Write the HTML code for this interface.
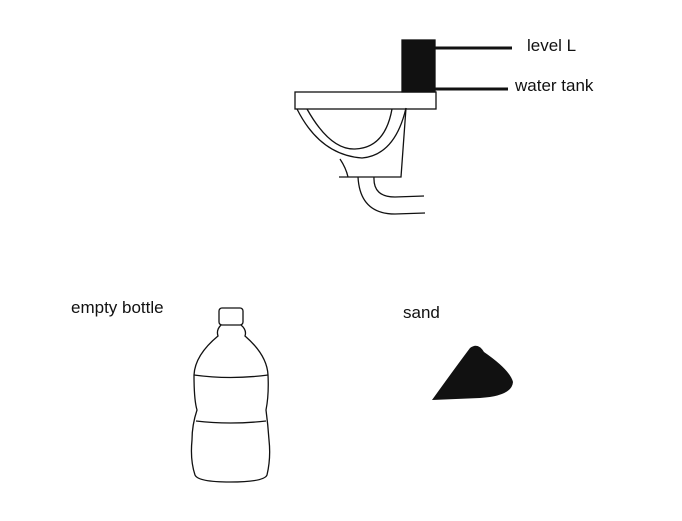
<!DOCTYPE html>
<html><head><meta charset="utf-8"><style>
body{margin:0;background:#fff;width:682px;height:516px;overflow:hidden}
svg text{font-family:"Liberation Sans",sans-serif;font-size:17px;fill:#111}
</style></head><body>
<svg width="682" height="516">
<g fill="none" stroke="#111" stroke-width="1.3">
<rect x="402" y="40" width="33" height="52" fill="#111"/>
<line x1="435" y1="48" x2="512" y2="48" stroke-width="3"/>
<line x1="435" y1="89" x2="508" y2="89" stroke-width="3"/>
<rect x="295" y="92" width="141" height="17"/>
<path d="M297,109 Q320,155 362,158 Q395,155 406,108"/>
<path d="M307,109 Q330,150 355,149 Q385,148 392,109"/>
<path d="M406,108 L401,177 L339,177"/>
<path d="M340,159 Q346,168 348,177"/>
<path d="M358,177 Q360,214 395,214 L425,213"/>
<path d="M374,177 Q373,197 395,197 L424,196"/>
</g>
<text x="527" y="51">level L</text>
<text x="515" y="91">water tank</text>
<text x="71" y="313">empty bottle</text>
<text x="403" y="318">sand</text>
<g fill="none" stroke="#111" stroke-width="1.3">
<rect x="219" y="308" width="24" height="17" rx="3"/>
<path d="M221,325 Q216,330 218,336 Q195,355 194,375 Q194,400 197,410 Q192,425 192,440 Q190,460 195,475 Q198,482 230,482 Q264,482 267,475 Q271,458 269,440 Q268,425 266,410 Q269,395 268,375 Q267,355 245,336 Q247,330 241,325"/>
<path d="M194,375 Q230,380 268,375"/>
<path d="M196,421 Q230,425 266,421"/>
</g>
<path d="M432,400 Q455,368 470,348 Q478,342 484,352 Q510,370 513,382 Q512,396 480,398 Z" fill="#111"/>
</svg>
</body></html>
